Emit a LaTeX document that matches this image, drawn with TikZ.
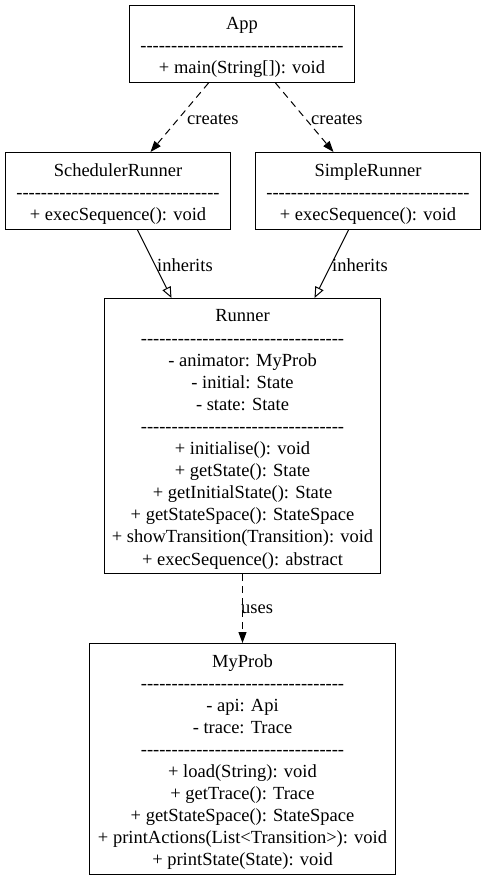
\documentclass[tikz,border=0pt]{standalone}
\usepackage{fontspec}
\setmainfont{Liberation Serif}
\usetikzlibrary{arrows.meta,calc}
\begin{document}
\begin{tikzpicture}[x=1pt,y=-1pt,
  cls/.style={draw=black,line width=1pt,inner sep=0pt,align=center,
    font=\fontsize{18.5}{22.1}\selectfont,anchor=north west},
  lbl/.style={inner sep=0pt,anchor=west,font=\fontsize{18.5}{22.1}\selectfont},
  dep/.style={line width=1pt,dash pattern=on 7pt off 5pt,-{Triangle[length=11pt,width=8pt]}},
  inh/.style={line width=1pt,-{Triangle[open,length=11pt,width=9pt]}}]
\useasboundingbox (0,0) rectangle (485,879);
\def\hy{\hbox{-}}
\def\hyf{\hy\hy\hy\hy\hy\hy\hy\hy}
\def\dl{\hyf\hyf\hyf\hyf\hy}
\def\st{\rule{0pt}{19pt}}
\node[cls,minimum width=225pt,minimum height=77pt] (app) at (129,5)
  {\st App\\\dl\\+ main(String[]): void};
\node[cls,minimum width=225pt,minimum height=77pt] (sched) at (5,152)
  {\st SchedulerRunner\\\dl\\+ execSequence(): void};
\node[cls,minimum width=225pt,minimum height=77pt] (simple) at (255,152)
  {\st SimpleRunner\\\dl\\+ execSequence(): void};
\node[cls,minimum width=276pt,minimum height=275pt] (runner) at (104,298)
  {\st Runner\\\dl\\- animator: MyProb\\- initial: State\\- state: State\\\dl\\+ initialise(): void\\+ getState(): State\\+ getInitialState(): State\\+ getStateSpace(): StateSpace\\+ showTransition(Transition): void\\+ execSequence(): abstract};
\node[cls,minimum width=306pt,minimum height=231pt] (myprob) at (89,643)
  {\st MyProb\\\dl\\- api: Api\\- trace: Trace\\\dl\\+ load(String): void\\+ getTrace(): Trace\\+ getStateSpace(): StateSpace\\+ printActions(List<Transition>): void\\+ printState(State): void};
\draw[dep] ($(app.south)+(-33.5,0)$) -- ($(sched.north)+(32.5,0)$);
\draw[dep] ($(app.south)+(33.5,0)$) -- ($(simple.north)+(-34.5,0)$);
\draw[inh] ($(sched.south)+(19.5,0)$) -- ($(runner.north)+(-71,0)$);
\draw[inh] ($(simple.south)+(-19.5,0)$) -- ($(runner.north)+(72,0)$);
\draw[dep] (runner.south) -- (myprob.north);
\node[lbl] (l1) at (187,119) {creates};
\node[lbl] (l2) at (311,119) {creates};
\node[lbl] (l3) at (157,265) {inherits};
\node[lbl] (l4) at (332,265) {inherits};
\node[lbl] (l5) at (241,609) {uses};
\end{tikzpicture}
\end{document}
